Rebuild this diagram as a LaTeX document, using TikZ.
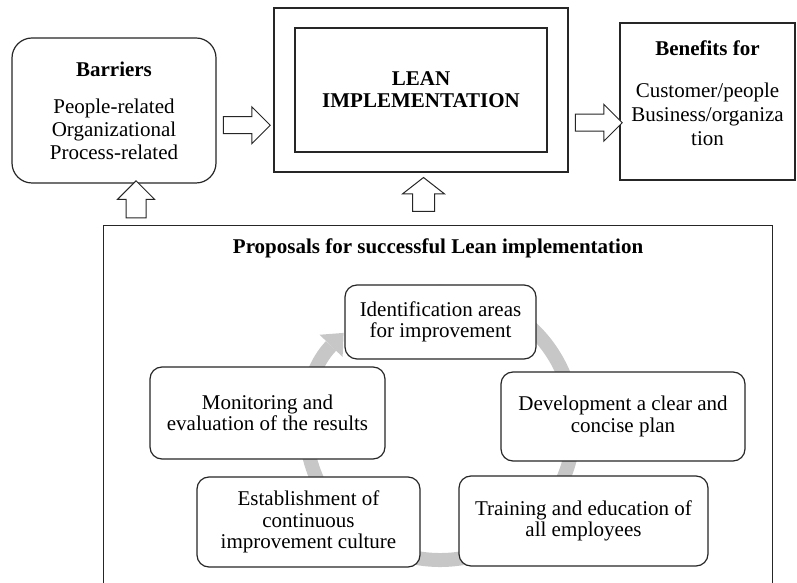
\documentclass[tikz,border=0pt]{standalone}
\usepackage{fontspec}
\setmainfont{Liberation Serif}
\usetikzlibrary{arrows.meta,calc,positioning,shapes.arrows}

\tikzset{
  box/.style={draw=black!85, line width=1.2pt, fill=white, align=center, inner sep=0pt, font=\fontsize{21}{21.5}\selectfont},
  rbox/.style={box, rounded corners=12pt},
  blockarrow/.style={single arrow, draw=black!85, line width=1pt, fill=white, inner sep=0pt, minimum width=0pt},
  ring/.style={line width=14pt, draw=black!22}
}

\begin{document}
\begin{tikzpicture}[x=1pt,y=1pt]
\useasboundingbox (0,0) rectangle (797,583);
\clip (0,0) rectangle (797,583);
\coordinate (C) at (440,157);
\draw[ring, -{Triangle[length=18pt,width=32pt,line width=0pt]}] ($(C)+(120:134)$) arc[start angle=120, end angle=-224, radius=134];
\node[box, fill=none, minimum width=669pt, minimum height=400pt, anchor=north west] (P) at (103,358) {};
\node[font=\fontsize{21}{22}\selectfont\bfseries, below=10pt of P.north] (T) {Proposals for successful Lean implementation};
\node[box, rounded corners=20pt, minimum width=204pt, minimum height=145pt, font=\fontsize{21}{23}\selectfont] (B) at (114,472.5) {\textbf{Barriers}\\[14pt]People-related\\Organizational\\Process-related};
\node[box, minimum width=294pt, minimum height=164pt] (L) at (421,493) {};
\node[box, minimum width=252pt, minimum height=124pt, font=\fontsize{21}{22}\selectfont\bfseries] (L2) at (L) {LEAN\\IMPLEMENTATION};
\node[box, minimum width=175pt, minimum height=157pt] (R) at (707.5,481.5) {};
\node[align=center, font=\fontsize{21}{24}\selectfont] (R2) at ($(R)+(0,8)$) {\textbf{Benefits for}\\[18pt]Customer/people\\Business/organiza\\tion};
\node[rbox, minimum width=191pt, minimum height=74pt] (P1) at (440.5,261) {Identification areas\\for improvement};
\node[rbox, minimum width=244pt, minimum height=89pt] (P2) at (623,166.5) {Development a clear and\\concise plan};
\node[rbox, minimum width=249pt, minimum height=90pt] (P3) at (583.5,62) {Training and education of\\all employees};
\node[rbox, minimum width=223pt, minimum height=90pt] (P4) at (308.5,61) {Establishment of\\continuous\\improvement culture};
\node[rbox, minimum width=235pt, minimum height=92pt] (P5) at (267.5,170) {Monitoring and\\evaluation of the results};
\node[blockarrow, minimum height=47pt, inner ysep=8pt, single arrow head extend=10pt] (A1) at ($(B.east)!.5!(L.west)+(-2.5,-25)$) {};
\node[blockarrow, minimum height=47pt, inner ysep=8pt, single arrow head extend=10pt] (A2) at ($(L.east)!.5!(R.west)+(0.5,-27)$) {};
\node[blockarrow, rotate=90, minimum height=37pt, inner ysep=9.5pt, single arrow head extend=8.5pt] (A3) at ($(B.south)!.5!(B.south |- P.north)+(22,0)$) {};
\node[blockarrow, rotate=90, minimum height=34pt, inner ysep=10.5pt, single arrow head extend=10pt, single arrow tip angle=104] (A4) at ($(L.south)!.5!(L.south |- P.north)+(2.5,0)$) {};
\end{tikzpicture}
\end{document}
